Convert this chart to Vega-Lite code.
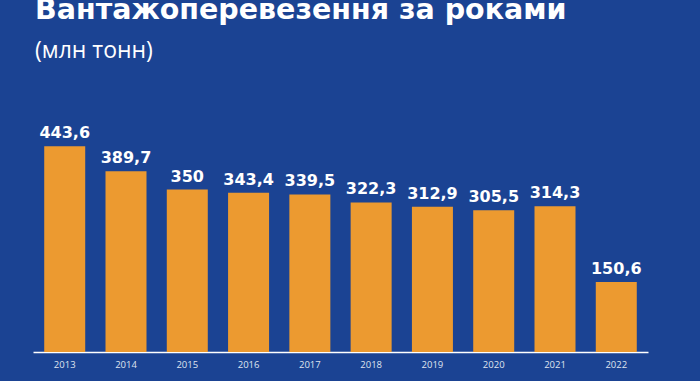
{
  "$schema": "https://vega.github.io/schema/vega-lite/v6.json",
  "autosize": {"type": "none"},
  "width": 615,
  "height": 232,
  "padding": {"left": 33, "top": 120, "right": 52, "bottom": 29},
  "background": "#1b4393",
  "title": {
    "text": "Вантажоперевезення за роками",
    "subtitle": "(млн тонн)",
    "anchor": "start",
    "frame": "group",
    "dx": 2,
    "offset": 57,
    "font": "DejaVu Sans",
    "fontSize": 28.5,
    "fontWeight": "bold",
    "color": "#ffffff",
    "subtitleFont": "Open Sans",
    "subtitleFontSize": 23,
    "subtitleFontWeight": 400,
    "subtitleColor": "#ffffff",
    "subtitlePadding": 16
  },
  "data": {
    "values": [
      {"year": "2013", "value": 443.6, "label": "443,6"},
      {"year": "2014", "value": 389.7, "label": "389,7"},
      {"year": "2015", "value": 350, "label": "350"},
      {"year": "2016", "value": 343.4, "label": "343,4"},
      {"year": "2017", "value": 339.5, "label": "339,5"},
      {"year": "2018", "value": 322.3, "label": "322,3"},
      {"year": "2019", "value": 312.9, "label": "312,9"},
      {"year": "2020", "value": 305.5, "label": "305,5"},
      {"year": "2021", "value": 314.3, "label": "314,3"},
      {"year": "2022", "value": 150.6, "label": "150,6"}
    ]
  },
  "encoding": {
    "x": {
      "field": "year",
      "type": "ordinal",
      "scale": {"paddingInner": 0.331, "paddingOuter": 0.183},
      "axis": {
        "title": null,
        "labelAngle": 0,
        "labelFont": "Open Sans",
        "labelFontSize": 9.5,
        "labelColor": "#dfe4ef",
        "labelPadding": 7,
        "ticks": false,
        "domainColor": "#ffffff",
        "domainWidth": 1.5
      }
    },
    "y": {
      "field": "value",
      "type": "quantitative",
      "scale": {"domain": [0, 500]},
      "axis": null
    }
  },
  "layer": [
    {"mark": {"type": "bar", "color": "#ec9a30"}},
    {
      "mark": {
        "type": "text",
        "baseline": "alphabetic",
        "dy": -8,
        "font": "DejaVu Sans",
        "fontSize": 16,
        "fontWeight": "bold",
        "color": "#ffffff"
      },
      "encoding": {"text": {"field": "label"}}
    }
  ],
  "config": {"view": {"stroke": null}}
}
